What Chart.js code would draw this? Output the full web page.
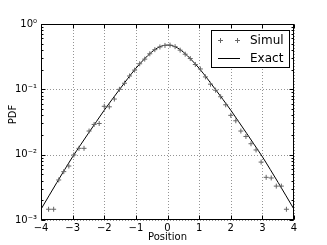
<!DOCTYPE html>
<html><head><meta charset="utf-8">
<script src="https://cdn.jsdelivr.net/npm/chart.js@4/dist/chart.umd.min.js"></script>
<style>html,body{margin:0;padding:0;background:#fff}canvas{display:block}</style>
</head><body>
<canvas id="c" width="327" height="245"></canvas>
<script>
// ---- data ----
const simX = [-3.92,-3.76,-3.60,-3.44,-3.28,-3.12,-2.96,-2.80,-2.64,-2.48,-2.32,-2.16,-2.00,-1.84,-1.68,-1.52,-1.36,-1.20,-1.04,-0.88,-0.72,-0.56,-0.40,-0.24,-0.08,0.08,0.24,0.40,0.56,0.72,0.88,1.04,1.20,1.36,1.52,1.68,1.84,2.00,2.16,2.32,2.48,2.64,2.80,2.96,3.12,3.28,3.44,3.60,3.76,3.92];
const simY = [null,0.00146,0.00146,0.0041,0.0055,0.0067,0.0099,0.0125,0.0125,0.023,0.029,0.030,0.055,0.054,0.071,0.100,0.124,0.160,0.197,0.246,0.290,0.350,0.405,0.445,0.470,0.475,0.450,0.398,0.345,0.296,0.240,0.205,0.155,0.120,0.097,0.077,0.058,0.040,0.033,0.023,0.019,0.0147,0.0118,0.0077,0.0045,0.0044,0.0033,0.0033,0.00146,null];
const exactX = [-4,-3.75,-3.5,-3.25,-3,-2.75,-2.5,-2.25,-2,-1.75,-1.5,-1.25,-1,-0.75,-0.5,-0.25,0,0.25,0.5,0.75,1,1.25,1.5,1.75,2,2.25,2.5,2.75,3,3.25,3.5,3.75,4];
const exactY = [0.00146,0.00234,0.00374,0.00592,0.00929,0.0141,0.0213,0.0320,0.0480,0.0703,0.102,0.148,0.210,0.285,0.372,0.447,0.476,0.447,0.372,0.285,0.210,0.148,0.102,0.0703,0.0480,0.0320,0.0213,0.0141,0.00929,0.00592,0.00374,0.00234,0.00146];
const seriesNames = ['Simul','Exact'];
const xTicks = [-4,-3,-2,-1,0,1,2,3,4];
const xTickLabels = ['\u22124','\u22123','\u22122','\u22121','0','1','2','3','4'];
const yTicks = [0.001,0.01,0.1,1];
const yTickLabels = ['10\u207B\u00B3','10\u207B\u00B2','10\u207B\u00B9','10\u2070'];
const xTitle = 'Position';
const yTitle = 'PDF';

const FONT = 'DejaVu Sans';

const decor = {
  id: 'decor',
  beforeDatasetsDraw(chart) {
    const {ctx, chartArea: a, scales: {x, y}} = chart;
    ctx.save();
    ctx.strokeStyle = 'rgba(0,0,0,0.42)';
    ctx.lineWidth = 1;
    ctx.setLineDash([1, 2]);
    xTicks.forEach(v => {
      const px = Math.round(x.getPixelForValue(v)) + 0.5;
      ctx.beginPath(); ctx.moveTo(px, a.top); ctx.lineTo(px, a.bottom); ctx.stroke();
    });
    yTicks.forEach(v => {
      const py = Math.round(y.getPixelForValue(v)) + 0.5;
      ctx.beginPath(); ctx.moveTo(a.left, py); ctx.lineTo(a.right, py); ctx.stroke();
    });
    ctx.restore();
  },
  afterDatasetsDraw(chart) {
    const {ctx, chartArea: a, scales: {x, y}} = chart;
    ctx.save();
    ctx.strokeStyle = '#000';
    ctx.lineWidth = 1;
    const L = Math.round(a.left) + 0.5, R = Math.round(a.right) - 0.5;
    const T = Math.round(a.top) + 0.5, B = Math.round(a.bottom) - 0.5;
    ctx.strokeRect(L, T, R - L, B - T);
    xTicks.forEach(v => {
      const px = Math.round(x.getPixelForValue(v)) + 0.5;
      ctx.beginPath();
      ctx.moveTo(px, B); ctx.lineTo(px, B - 4);
      ctx.moveTo(px, T); ctx.lineTo(px, T + 4);
      ctx.stroke();
    });
    for (let e = -3; e <= 0; e++) {
      for (let m = 1; m <= 9; m++) {
        const v = m * Math.pow(10, e);
        if (v > 1.0000001) break;
        const len = m === 1 ? 4 : 2;
        const py = Math.round(y.getPixelForValue(v)) + 0.5;
        ctx.beginPath();
        ctx.moveTo(L, py); ctx.lineTo(L + len, py);
        ctx.moveTo(R, py); ctx.lineTo(R - len, py);
        ctx.stroke();
      }
    }
    // y axis title
    ctx.fillStyle = '#000';
    ctx.font = '10px "' + FONT + '"';
    ctx.textAlign = 'center';
    ctx.textBaseline = 'middle';
    ctx.save();
    ctx.translate(13, 114.5);
    ctx.rotate(-Math.PI / 2);
    ctx.fillText(yTitle, 0, 0);
    ctx.restore();
    // legend
    const bx = 211.5, by = 30.5, bw = 78, bh = 37;
    ctx.fillStyle = '#fff';
    ctx.fillRect(bx, by, bw, bh);
    ctx.strokeStyle = '#000';
    ctx.strokeRect(bx, by, bw, bh);
    const ds = chart.data.datasets;
    ctx.strokeStyle = ds[0].borderColor;
    [220.5, 237.5].forEach(cx => {
      ctx.beginPath();
      ctx.moveTo(cx - 2.5, 40.5); ctx.lineTo(cx + 2.5, 40.5);
      ctx.moveTo(cx, 38); ctx.lineTo(cx, 43);
      ctx.stroke();
    });
    ctx.strokeStyle = ds[1].borderColor;
    ctx.beginPath(); ctx.moveTo(218, 58.5); ctx.lineTo(240, 58.5); ctx.stroke();
    ctx.fillStyle = '#000';
    ctx.font = '12px "' + FONT + '"';
    ctx.textBaseline = 'middle';
    ctx.textAlign = 'left';
    ctx.fillText(ds[0].label, 250, 40.5);
    ctx.fillText(ds[1].label, 250, 58.5);
    ctx.restore();
  }
};

new Chart(document.getElementById('c'), {
  type: 'scatter',
  data: {
    datasets: [
      {
        label: seriesNames[0],
        data: simX.map((v, i) => ({x: v, y: simY[i]})),
        showLine: false,
        pointStyle: 'cross',
        pointRadius: 2.5,
        pointBorderWidth: 1,
        borderColor: '#666',
        backgroundColor: '#666'
      },
      {
        label: seriesNames[1],
        data: exactX.map((v, i) => ({x: v, y: exactY[i]})),
        showLine: true,
        pointRadius: 0,
        borderColor: '#000',
        borderWidth: 1,
        cubicInterpolationMode: 'monotone'
      }
    ]
  },
  options: {
    responsive: false,
    animation: false,
    devicePixelRatio: 1,
    layout: {padding: {top: 24, right: 33, left: 0, bottom: 0}},
    plugins: {legend: {display: false}, tooltip: {enabled: false}},
    scales: {
      x: {
        type: 'linear', min: -4, max: 4,
        afterFit: s => { s.height = 25; },
        afterBuildTicks: s => { s.ticks = xTicks.map(v => ({value: v})); },
        grid: {display: false, drawTicks: false},
        border: {display: false},
        ticks: {
          font: {family: FONT, size: 10}, color: '#000', padding: 2,
          maxRotation: 0, autoSkip: false,
          callback: (v, i) => xTickLabels[i]
        },
        title: {display: true, text: xTitle, font: {family: FONT, size: 10}, color: '#000', padding: {top: 0, bottom: 1.5}}
      },
      y: {
        type: 'logarithmic', min: 0.001, max: 1,
        afterFit: s => { s.width = 41; },
        afterBuildTicks: s => { s.ticks = yTicks.map(v => ({value: v})); },
        grid: {display: false, drawTicks: false},
        border: {display: false},
        ticks: {
          font: {family: FONT, size: 10}, color: '#000', padding: 4,
          autoSkip: false,
          callback: (v, i) => yTickLabels[i]
        },
        title: {display: false, text: yTitle}
      }
    }
  },
  plugins: [decor]
});
</script>
</body></html>
